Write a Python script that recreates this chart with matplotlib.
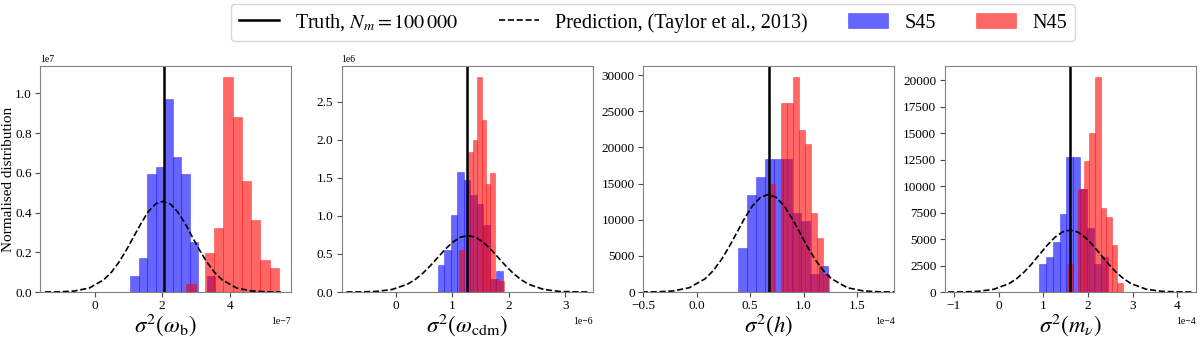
import numpy as np
import matplotlib
matplotlib.use("Agg")
import matplotlib.pyplot as plt
from matplotlib.ticker import MultipleLocator

plt.rcParams["font.family"] = ["Liberation Serif", "DejaVu Serif"]
plt.rcParams["mathtext.fontset"] = "stix"

# ---- data (x in units of x_scales, y in units of y_scales) ----
x_scales = [1e-7, 1e-6, 1e-4, 1e-4]
y_scales = [1e7, 1e6, 1.0, 1.0]
x_labels = [r"$\sigma^2(\omega_{\rm b})$", r"$\sigma^2(\omega_{\rm cdm})$",
            r"$\sigma^2(h)$", r"$\sigma^2(m_\nu)$"]

truth = [2.04, 1.257, 0.678, 1.60]

# S45 histograms: first bin edge, bin width, bar heights
s45_start = [1.05, 0.749, 0.384, 0.90]
s45_width = [0.252, 0.1146, 0.084, 0.155]
s45_heights = [
    [0.081, 0.169, 0.594, 0.632, 0.973, 0.678, 0.594, 0.254, 0.0, 0.081],
    [0.36, 0.55, 1.006, 1.57, 1.47, 1.27, 1.16, 0.88, 0.176, 0.277],
    [6111, 13426, 15880, 18380, 18380, 18380, 10880, 9815, 2546, 3611],
    [2686, 3318, 4700, 7362, 12733, 12733, 9700, 6003, 2686, 3318],
]

# N45 histograms
n45_start = [2.715, 1.127, 0.678, 1.533]
n45_width = [0.274, 0.0786, 0.0556, 0.125]
n45_heights = [
    [0.038, 0.0, 0.199, 0.32, 1.084, 0.883, 0.561, 0.362, 0.16, 0.121],
    [0.558, 0.0, 1.836, 2.0, 2.825, 2.26, 1.42, 1.56, 0.176, 0.14],
    [14954, 0, 26157, 26157, 29768, 22361, 20509, 10972, 7407, 2546],
    [2622, 0, 9731, 12386, 15008, 20316, 7899, 7109, 4423, 885],
]

# prediction curves (Taylor et al. 2013)
pred_x = [
    [-1.47, -1.04, -0.60, -0.16, 0.27, 0.49, 0.71, 0.93, 1.15, 1.37, 1.58, 1.80, 2.02,
     2.24, 2.46, 2.68, 2.89, 3.11, 3.33, 3.55, 3.77, 4.20, 4.64, 5.08, 5.51],
    [-0.872, -0.603, -0.334, -0.065, 0.204, 0.339, 0.473, 0.608, 0.742, 0.877, 1.011, 1.146, 1.280,
     1.415, 1.549, 1.684, 1.818, 1.953, 2.087, 2.222, 2.356, 2.625, 2.894, 3.163, 3.432],
    [-0.512, -0.364, -0.217, -0.069, 0.079, 0.153, 0.227, 0.301, 0.375, 0.448, 0.522, 0.596, 0.670,
     0.744, 0.818, 0.892, 0.966, 1.039, 1.113, 1.187, 1.261, 1.409, 1.557, 1.704, 1.852],
    [-1.130, -0.789, -0.448, -0.107, 0.235, 0.405, 0.576, 0.747, 0.917, 1.088, 1.259, 1.429, 1.600,
     1.771, 1.941, 2.112, 2.283, 2.453, 2.624, 2.795, 2.965, 3.307, 3.648, 3.989, 4.330],
]
pred_y = [
    [0.0002, 0.0010, 0.0051, 0.0201, 0.0618, 0.0988, 0.1484, 0.2092, 0.2772, 0.3449, 0.4033, 0.4429, 0.4570,
     0.4429, 0.4033, 0.3449, 0.2772, 0.2092, 0.1484, 0.0988, 0.0618, 0.0201, 0.0051, 0.0010, 0.0002],
    [0.0003, 0.0016, 0.0082, 0.0326, 0.1004, 0.1605, 0.2409, 0.3397, 0.4500, 0.5601, 0.6548, 0.7192, 0.7420,
     0.7192, 0.6548, 0.5601, 0.4500, 0.3397, 0.2409, 0.1605, 0.1004, 0.0326, 0.0082, 0.0016, 0.0003],
    [5, 30, 150, 593, 1827, 2920, 4383, 6181, 8188, 10190, 11914, 13085, 13500,
     13085, 11914, 10190, 8188, 6181, 4383, 2920, 1827, 593, 150, 30, 5],
    [2, 13, 65, 257, 791, 1264, 1898, 2676, 3545, 4412, 5158, 5665, 5845,
     5665, 5158, 4412, 3545, 2676, 1898, 1264, 791, 257, 65, 13, 2],
]

# axis settings
x_limits = [(-1.62, 5.82), (-0.957, 3.49), (-0.50, 1.849), (-1.205, 4.42)]
x_steps = [2.0, 1.0, 0.5, 1.0]
y_steps = [0.2, 0.5, 5000, 2500]

fig, axes = plt.subplots(1, 4, figsize=(12, 3.37), dpi=100)
fig.subplots_adjust(left=0.0333, right=0.9967, bottom=0.1335, top=0.804, wspace=0.2)

for i, ax in enumerate(axes):
    xs, ys = x_scales[i], y_scales[i]

    edges = (s45_start[i] + s45_width[i] * np.arange(len(s45_heights[i]) + 1)) * xs
    ax.hist(edges[:-1], bins=edges, weights=np.array(s45_heights[i]) * ys,
            color="blue", alpha=0.6, edgecolor="blue", linewidth=0.4, label="S45")

    edges = (n45_start[i] + n45_width[i] * np.arange(len(n45_heights[i]) + 1)) * xs
    ax.hist(edges[:-1], bins=edges, weights=np.array(n45_heights[i]) * ys,
            color="red", alpha=0.6, edgecolor="red", linewidth=0.4, label="N45")

    ax.axvline(truth[i] * xs, color="black", lw=1.8,
               label=r"Truth, $N_m = 100\,000$")
    ax.plot(np.array(pred_x[i]) * xs, np.array(pred_y[i]) * ys, "--", color="black",
            lw=1.2, label="Prediction, (Taylor et al., 2013)")

    ax.set_xlim(x_limits[i][0] * xs, x_limits[i][1] * xs)
    ax.set_ylim(bottom=0)
    ax.xaxis.set_major_locator(MultipleLocator(x_steps[i] * xs))
    ax.yaxis.set_major_locator(MultipleLocator(y_steps[i] * ys))
    ax.ticklabel_format(axis="x", style="sci", scilimits=(0, 0))
    ax.tick_params(labelsize=9.5, color="0.3", pad=2.5)
    ax.xaxis.get_offset_text().set_fontsize(7)
    ax.yaxis.get_offset_text().set_fontsize(7)
    for sp in ax.spines.values():
        sp.set_color("0.5")
    ax.set_xlabel(x_labels[i], fontsize=16.5, va="top")
    ax.xaxis.set_label_coords(0.5, -0.085)

axes[0].set_ylabel("Normalised distribution", fontsize=11)
axes[0].yaxis.set_label_coords(-0.1, 0.5)

h, l = axes[0].get_legend_handles_labels()
order = [2, 3, 0, 1]
fig.legend([h[k] for k in order], [l[k] for k in order], loc="upper center",
           bbox_to_anchor=(0.544, 1.0), ncol=4, fontsize=14.5, handlelength=2.0,
           columnspacing=2.0, borderaxespad=0.2)

fig.savefig("out.png", dpi=100)
